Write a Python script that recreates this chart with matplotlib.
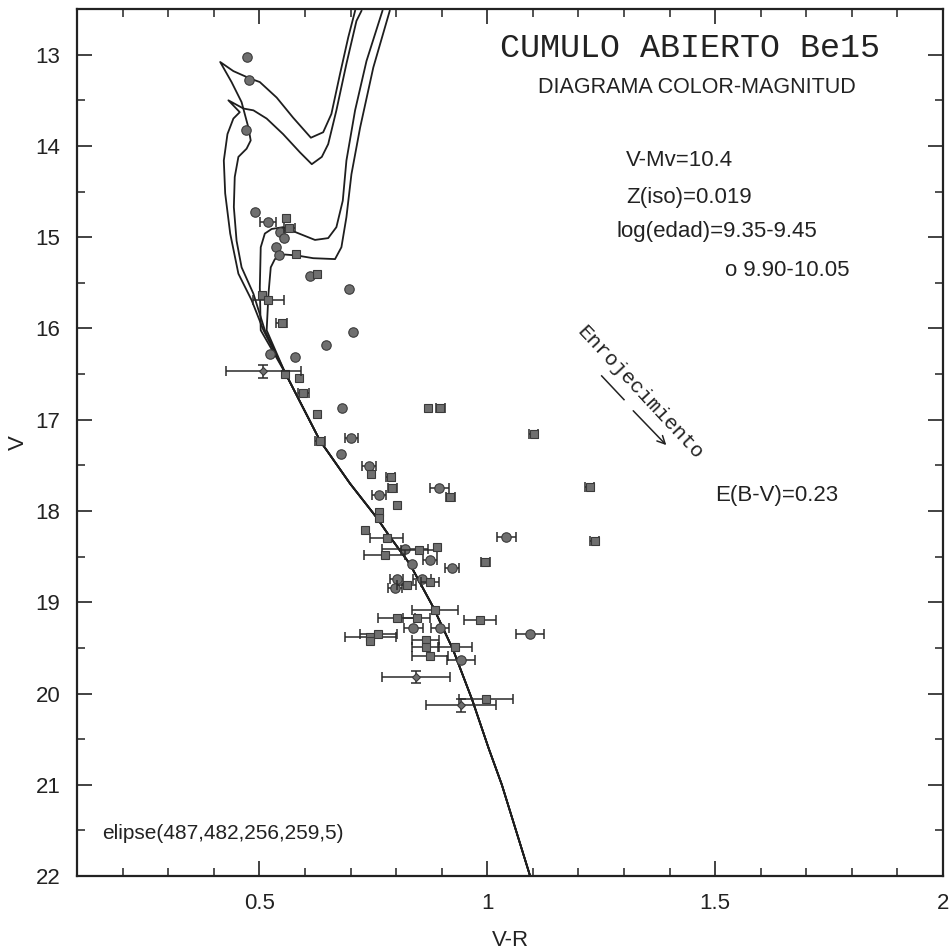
#重现 Be15 疏散星团颜色-星等图
import numpy as np
import matplotlib
matplotlib.use('Agg')
import matplotlib.pyplot as plt
from matplotlib.ticker import MultipleLocator

plt.rcParams['font.family'] = ['Liberation Sans', 'DejaVu Sans']

#圆点: V-R, V, 误差
circ_x = [0.472, 0.478, 0.471, 0.490, 0.519, 0.545, 0.554, 0.536, 0.543, 0.611, 0.697,
          0.523, 0.578, 0.646, 0.705, 0.682, 0.702, 0.680, 0.741, 0.763, 0.895, 1.042,
          0.834, 0.874, 0.923, 0.801, 0.797, 0.856, 0.838, 0.896, 1.093, 0.942, 0.820]
circ_v = [13.03, 13.28, 13.83, 14.72, 14.83, 14.94, 15.01, 15.11, 15.20, 15.42, 15.57,
          16.28, 16.31, 16.18, 16.04, 16.87, 17.20, 17.38, 17.51, 17.83, 17.75, 18.28,
          18.58, 18.54, 18.62, 18.74, 18.84, 18.74, 19.28, 19.28, 19.35, 19.63, 18.42]
circ_e = [0, 0, 0, 0, 0.018, 0, 0, 0, 0, 0, 0,
          0, 0, 0, 0, 0, 0.015, 0, 0.015, 0.015, 0.02, 0.02,
          0, 0.015, 0.015, 0.015, 0.015, 0.02, 0.02, 0.02, 0.031, 0.03, 0.05]

#方点
sq_x = [0.558, 0.566, 0.580, 0.626, 0.505, 0.520, 0.549, 0.556, 0.588, 0.596, 0.626,
        0.870, 0.897, 0.633, 1.102, 0.746, 0.788, 0.792, 0.919, 1.225, 0.802, 0.763,
        0.763, 0.732, 0.779, 0.889, 1.236, 0.996, 0.775, 0.850, 0.823, 0.874, 0.885,
        0.801, 0.845, 0.984, 0.743, 0.761, 0.743, 0.865, 0.865, 0.929, 0.874, 0.997]
sq_v = [14.79, 14.90, 15.18, 15.40, 15.63, 15.69, 15.94, 16.50, 16.54, 16.71, 16.94,
        16.87, 16.87, 17.23, 17.16, 17.59, 17.63, 17.75, 17.85, 17.74, 17.93, 18.01,
        18.08, 18.21, 18.30, 18.40, 18.33, 18.56, 18.48, 18.43, 18.81, 18.78, 19.08,
        19.17, 19.17, 19.19, 19.38, 19.35, 19.43, 19.41, 19.49, 19.49, 19.59, 20.06]
sq_e = [0, 0.012, 0, 0, 0, 0.035, 0.012, 0, 0, 0.012, 0,
        0, 0.01, 0.01, 0.01, 0, 0.01, 0.01, 0.01, 0.01, 0, 0,
        0, 0, 0.036, 0, 0.01, 0.01, 0.045, 0.04, 0.02, 0.02, 0.05,
        0.04, 0.03, 0.036, 0.056, 0.04, 0, 0.03, 0.03, 0.038, 0.04, 0.06]

#菱形点(带竖直误差)
dia_x = [0.509, 0.843, 0.942]
dia_v = [16.47, 19.82, 20.13]
dia_e = [0.083, 0.075, 0.077]
dia_ve = [0.07, 0.07, 0.07]

#等龄线
iso1_x = [0.710, 0.695, 0.677, 0.658, 0.640, 0.613, 0.574, 0.538, 0.501, 0.479, 0.443, 0.414,
          0.439, 0.461, 0.476, 0.481, 0.472, 0.454, 0.446, 0.444, 0.450, 0.461, 0.487, 0.512]
iso1_v = [12.52, 12.81, 13.21, 13.65, 13.85, 13.91, 13.69, 13.47, 13.30, 13.26, 13.18, 13.08,
          13.30, 13.52, 13.80, 13.94, 14.03, 14.12, 14.34, 14.67, 15.04, 15.33, 15.62, 16.02]
iso2_x = [0.724, 0.713, 0.691, 0.669, 0.651, 0.637, 0.615, 0.589, 0.552, 0.516, 0.487, 0.465,
          0.432, 0.457, 0.443, 0.430, 0.422, 0.425, 0.436, 0.454, 0.483, 0.509]
iso2_v = [12.52, 12.63, 13.10, 13.61, 13.98, 14.12, 14.20, 14.07, 13.87, 13.70, 13.61, 13.59,
          13.50, 13.63, 13.70, 13.87, 14.16, 14.52, 14.96, 15.40, 15.69, 16.02]
iso3_x = [0.770, 0.735, 0.710, 0.691, 0.683, 0.669, 0.651, 0.622, 0.582, 0.552, 0.527, 0.512,
          0.503, 0.501, 0.503]
iso3_v = [12.52, 13.07, 13.61, 14.16, 14.60, 14.89, 15.01, 15.03, 14.95, 14.89, 14.91, 14.96,
          15.11, 15.55, 16.02]
iso4_x = [0.786, 0.750, 0.721, 0.702, 0.691, 0.680, 0.666, 0.618, 0.582, 0.556, 0.534, 0.525,
          0.520, 0.516]
iso4_v = [12.52, 13.14, 13.80, 14.31, 14.78, 15.11, 15.24, 15.23, 15.20, 15.19, 15.24, 15.33,
          15.62, 16.02]
#共同的主序下半部分
ms_x = [0.556, 0.633, 0.699, 0.757, 0.786, 0.830, 0.881, 0.925, 0.967, 1.003, 1.032, 1.063, 1.094]
ms_v = [16.48, 17.23, 17.70, 18.07, 18.28, 18.58, 19.05, 19.52, 20.07, 20.60, 21.0, 21.5, 22.0]

fig = plt.figure(figsize=(9.5, 9.52), dpi=100)
ax = fig.add_axes([0.0811, 0.0798, 0.9116, 0.9107])

for ix, iv in [(iso1_x, iso1_v), (iso2_x, iso2_v), (iso3_x, iso3_v), (iso4_x, iso4_v)]:
    ax.plot(ix + ms_x, iv + ms_v, color='#1e1e1e', linewidth=1.3)

mk = dict(markerfacecolor='#6f6f6f', markeredgecolor='#3a3a3a', markeredgewidth=0.8, linestyle='none')
eb = dict(fmt='none', ecolor='#2a2a2a', elinewidth=1.1, capsize=3.5, capthick=1.1)

cx, cv, ce = np.array(circ_x), np.array(circ_v), np.array(circ_e)
m = ce > 0
ax.errorbar(cx[m], cv[m], xerr=ce[m], **eb)
ax.plot(cx, cv, marker='o', markersize=6.8, **mk)

sx, sv, se = np.array(sq_x), np.array(sq_v), np.array(sq_e)
m = se > 0
ax.errorbar(sx[m], sv[m], xerr=se[m], **eb)
ax.plot(sx, sv, marker='s', markersize=5.8, **mk)

ax.errorbar(dia_x, dia_v, xerr=dia_e, yerr=dia_ve, **eb)
ax.plot(dia_x, dia_v, marker='D', markersize=4.5, **mk)

#文字
ax.text(1.444, 12.93, 'CUMULO ABIERTO Be15', family='Liberation Mono', fontsize=24,
        ha='center', va='center', color='#222')
ax.text(1.46, 13.36, 'DIAGRAMA COLOR-MAGNITUD', fontsize=15.5, ha='center', va='center', color='#222')
ax.text(1.304, 14.16, 'V-Mv=10.4', fontsize=16, ha='left', va='center', color='#222')
ax.text(1.304, 14.57, 'Z(iso)=0.019', fontsize=16, ha='left', va='center', color='#222')
ax.text(1.284, 14.94, 'log(edad)=9.35-9.45', fontsize=16, ha='left', va='center', color='#222')
ax.text(1.521, 15.36, 'o 9.90-10.05', fontsize=16, ha='left', va='center', color='#222')
ax.text(1.501, 17.83, 'E(B-V)=0.23', fontsize=16, ha='left', va='center', color='#222')
ax.text(0.155, 21.53, 'elipse(487,482,256,259,5)', fontsize=15, ha='left', va='center', color='#222')
ax.text(1.335, 16.70, 'Enrojecimiento', family='Liberation Mono', fontsize=15, rotation=-47,
        ha='center', va='center', rotation_mode='anchor', color='#222')
#红化方向箭头
ax.plot([1.251, 1.300], [16.52, 16.78], color='#222', linewidth=1.1)
ax.annotate('', xy=(1.397, 17.30), xytext=(1.316, 16.88),
            arrowprops=dict(arrowstyle='->', color='#222', linewidth=1.1, mutation_scale=14))

ax.set_xlim(0.1, 2.0)
ax.set_ylim(22, 12.5)
ax.set_xticks([0.5, 1, 1.5, 2])
ax.set_xticklabels(['0.5', '1', '1.5', '2'])
ax.set_yticks(range(13, 23))
ax.xaxis.set_minor_locator(MultipleLocator(0.1))
ax.yaxis.set_minor_locator(MultipleLocator(0.5))
ax.tick_params(which='both', direction='in', top=True, right=True, labelsize=16, colors='#222')
ax.tick_params(which='major', length=11, width=1.2, pad=12)
ax.tick_params(which='minor', length=6, width=1.1)
for s in ax.spines.values():
    s.set_linewidth(1.6)
    s.set_color('#222')
ax.set_xlabel('V-R', fontsize=16, labelpad=12, color='#222')
ax.set_ylabel('V', fontsize=16, labelpad=5, color='#222')

fig.savefig('out.png', dpi=100, facecolor='white')
